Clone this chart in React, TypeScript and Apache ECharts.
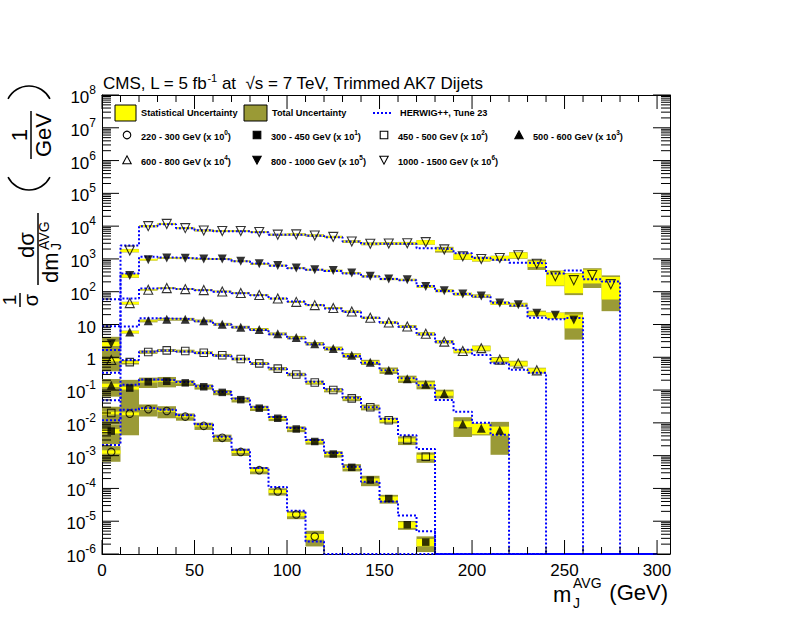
import { useEffect, useRef } from 'react';
import * as echarts from 'echarts';

// ---------- axes ----------
const XMAX = 307;
const YMIN = 1e-6;
const YMAX = 1e8;
const BIN = 10;
const xMajorTicks = [0, 50, 100, 150, 200, 250, 300];
const yDecades = [-6, -5, -4, -3, -2, -1, 0, 1, 2, 3, 4, 5, 6, 7, 8];

// ---------- data (1/sigma dsigma/dm, scaled), 10 GeV bins from 0 ----------
// 220 - 300 GeV (x 10^0)
const dataA = [1.3e-3, 1.9e-2, 2.6e-2, 2.3e-2, 1.55e-2, 8.1e-3, 3.5e-3, 1.3e-3, 3.6e-4, 8.1e-5, 1.6e-5, 3.4e-6];
const mcA = [2.1e-3, 2.5e-2, 2.8e-2, 2.5e-2, 1.7e-2, 9.0e-3, 3.8e-3, 1.5e-3, 4.2e-4, 1.1e-4, 2.1e-5, 2.4e-6];
const statA = [0.12, 0.1, 0.05, 0.05, 0.05, 0.05, 0.06, 0.07, 0.08, 0.1, 0.12, 0.2];
const totA = [0.5, 0.78, 0.4, 0.4, 0.25, 0.25, 0.25, 0.25, 0.25, 0.25, 0.28, 0.5];

// 300 - 450 GeV (x 10^1)
const dataB = [5.6e-3, 0.115, 0.178, 0.186, 0.166, 0.126, 8.5e-2, 5.1e-2, 2.8e-2, 1.38e-2, 6.5e-3, 2.7e-3, 1.12e-3, 4.4e-4, 1.8e-4, 4.9e-5, 7.8e-6, 2.3e-6];
const mcB = [1.2e-2, 0.145, 0.21, 0.2, 0.175, 0.13, 8.8e-2, 5.4e-2, 3.0e-2, 1.5e-2, 7.0e-3, 3.0e-3, 1.2e-3, 4.6e-4, 1.6e-4, 4.0e-5, 1.5e-5, 4.9e-6];
const statB = [0.15, 0.1, 0.04, 0.04, 0.04, 0.04, 0.04, 0.04, 0.05, 0.05, 0.06, 0.07, 0.08, 0.1, 0.12, 0.15, 0.2, 0.25];
const totB = [0.6, 0.78, 0.35, 0.35, 0.2, 0.18, 0.18, 0.18, 0.18, 0.18, 0.2, 0.2, 0.22, 0.25, 0.35, 0.3, 0.3, 0.5];

// 450 - 500 GeV (x 10^2)
const dataC = [2.0e-2, 0.71, 1.45, 1.62, 1.55, 1.38, 1.15, 0.89, 0.65, 0.45, 0.3, 0.17, 0.1, 5.6e-2, 3.0e-2, 1.2e-2, 3.0e-3, 9.3e-4];
const mcC = [4.9e-2, 0.83, 1.48, 1.6, 1.5, 1.35, 1.12, 0.88, 0.64, 0.45, 0.3, 0.18, 0.105, 5.8e-2, 3.0e-2, 1.3e-2, 4.2e-3, 1.6e-3];
const statC = [0.1, 0.06, 0.04, 0.04, 0.04, 0.04, 0.04, 0.04, 0.04, 0.05, 0.05, 0.06, 0.06, 0.07, 0.08, 0.1, 0.12, 0.15];
const totC = [0.55, 0.15, 0.12, 0.1, 0.1, 0.1, 0.1, 0.1, 0.1, 0.12, 0.12, 0.14, 0.15, 0.18, 0.2, 0.2, 0.3, 0.35];

// 500 - 600 GeV (x 10^3)
const dataD = [0.14, 5.9, 12.9, 14.5, 14.5, 12.9, 10.2, 8.3, 7.1, 5.2, 4.0, 2.6, 1.86, 1.15, 0.71, 0.4, 0.22, 0.15, 7.9e-2, 9.3e-3, 6.9e-3, 5.9e-3];
const mcD = [0.34, 8.7, 15.5, 15, 14.5, 12.5, 10, 8.2, 6.8, 5.0, 3.8, 2.5, 1.8, 1.1, 0.68, 0.4, 0.23, 0.14, 5.0e-2, 2.2e-2, 1.0e-2, 4.3e-3];
const statD = [0.12, 0.08, 0.04, 0.04, 0.04, 0.04, 0.04, 0.04, 0.04, 0.05, 0.05, 0.05, 0.06, 0.07, 0.08, 0.1, 0.12, 0.15, 0.15, 0.2, 0.35, 0.3];
const totD = [0.55, 0.1, 0.1, 0.1, 0.1, 0.1, 0.1, 0.1, 0.1, 0.1, 0.12, 0.12, 0.14, 0.16, 0.18, 0.22, 0.25, 0.3, 0.3, 0.6, 0.4, 0.82];

// 600 - 800 GeV (x 10^4)
const dataE = [0.83, 45, 115, 129, 120, 112, 102, 91, 79, 62, 49, 39, 32, 25, 16, 11.5, 8.7, 5.2, 3.0, 1.55, 1.9, 0.85, 0.65, 0.4];
const mcE = [1.66, 62, 126, 128, 120, 110, 100, 90, 78, 62, 50, 39, 31, 24, 16, 11.5, 8.5, 5.0, 3.0, 1.7, 1.17, 0.66, 0.42, 0.34];
const statE = [0.1, 0.08, 0.04, 0.04, 0.04, 0.04, 0.04, 0.04, 0.04, 0.04, 0.04, 0.05, 0.05, 0.05, 0.06, 0.06, 0.07, 0.08, 0.08, 0.1, 0.15, 0.12, 0.15, 0.15];
const totE = [0.55, 0.1, 0.06, 0.06, 0.06, 0.06, 0.06, 0.06, 0.06, 0.06, 0.06, 0.07, 0.07, 0.08, 0.08, 0.08, 0.1, 0.12, 0.12, 0.15, 0.2, 0.2, 0.2, 0.2];

// 800 - 1000 GeV (x 10^5)
const dataF = [2.6, 310, 950, 1070, 1050, 1000, 1000, 850, 710, 630, 525, 470, 440, 370, 295, 245, 230, 145, 107, 85, 74, 45, 40, 22, 19, 13.8];
const mcF = [8.9, 360, 1170, 1100, 1050, 1000, 980, 850, 720, 620, 520, 470, 430, 360, 290, 245, 225, 150, 105, 85, 72, 46, 38, 16, 14.5, 15.8];
const statF = [0.15, 0.12, 0.05, 0.04, 0.04, 0.04, 0.04, 0.04, 0.04, 0.04, 0.04, 0.04, 0.05, 0.05, 0.05, 0.06, 0.06, 0.07, 0.07, 0.08, 0.08, 0.1, 0.1, 0.12, 0.2, 0.45];
const totF = [0.62, 0.14, 0.06, 0.06, 0.06, 0.06, 0.06, 0.06, 0.06, 0.06, 0.06, 0.06, 0.07, 0.07, 0.07, 0.08, 0.08, 0.09, 0.1, 0.1, 0.12, 0.12, 0.15, 0.2, 0.22, 0.75];

// 1000 - 1500 GeV (x 10^6)
const dataG = [null, 1800, 1.0e4, 1.17e4, 8700, 7400, 7100, 7100, 6600, 5500, 5600, 5200, 4700, 3400, 2900, 2950, 3000, 3250, 1950, 1200, 1000, 1070, 1300, 710, 295, 225, 325, 170];
const mcG = [59, 2570, 1.0e4, 1.15e4, 8700, 7500, 7000, 7000, 6500, 5500, 5500, 5100, 4600, 3400, 2900, 2900, 2900, 2100, 2000, 1500, 1070, 950, 760, 740, 360, 440, 240, 205];
const statG = [0, 0.1, 0.06, 0.05, 0.05, 0.05, 0.05, 0.05, 0.05, 0.05, 0.06, 0.06, 0.06, 0.07, 0.08, 0.08, 0.08, 0.15, 0.12, 0.2, 0.15, 0.15, 0.2, 0.2, 0.48, 0.6, 0.45, 0.66];
const totG = [0, 0.12, 0.08, 0.07, 0.07, 0.07, 0.07, 0.07, 0.07, 0.07, 0.08, 0.08, 0.08, 0.09, 0.1, 0.1, 0.1, 0.16, 0.2, 0.22, 0.17, 0.17, 0.22, 0.35, 0.5, 0.65, 0.6, 0.85];

const seriesNames = ['220 - 300 GeV', '300 - 450 GeV', '450 - 500 GeV', '500 - 600 GeV', '600 - 800 GeV', '800 - 1000 GeV', '1000 - 1500 GeV'];
const scaleExponents = [0, 1, 2, 3, 4, 5, 6];

const YELLOW = '#ffff00';
const OLIVE = '#9a9a36';
const BLUE = '#0000ff';
const FONT = 'Liberation Sans, Arial, Helvetica, sans-serif';

type Group = { data: (number | null)[]; mc: number[]; stat: number[]; tot: number[]; symbol: string; filled: boolean; rotate: number };

const groups: Group[] = [
  { data: dataA, mc: mcA, stat: statA, tot: totA, symbol: 'circle', filled: false, rotate: 0 },
  { data: dataB, mc: mcB, stat: statB, tot: totB, symbol: 'rect', filled: true, rotate: 0 },
  { data: dataC, mc: mcC, stat: statC, tot: totC, symbol: 'rect', filled: false, rotate: 0 },
  { data: dataD, mc: mcD, stat: statD, tot: totD, symbol: 'triangle', filled: true, rotate: 0 },
  { data: dataE, mc: mcE, stat: statE, tot: totE, symbol: 'triangle', filled: false, rotate: 0 },
  { data: dataF, mc: mcF, stat: statF, tot: totF, symbol: 'triangle', filled: true, rotate: 180 },
  { data: dataG, mc: mcG, stat: statG, tot: totG, symbol: 'triangle', filled: false, rotate: 180 },
];

function boxItems(kind: 'stat' | 'tot') {
  const out: number[][] = [];
  groups.forEach((g) => {
    g.data.forEach((v, k) => {
      if (v == null) return;
      const e = kind === 'stat' ? g.stat[k] : g.tot[k];
      out.push([k * BIN, k * BIN + BIN, Math.max(v * (1 - e), YMIN * 1.001), v * (1 + e)]);
    });
  });
  return out;
}

function stepPoints(mc: number[]) {
  const pts: number[][] = [];
  mc.forEach((v, k) => {
    pts.push([k * BIN, v]);
    pts.push([k * BIN + BIN, v]);
  });
  pts.push([mc.length * BIN, YMIN]);
  pts.push([300, YMIN]);
  return pts;
}

const boxRender = (color: string) => (params: any, api: any) => {
  const p0 = api.coord([api.value(0), api.value(3)]);
  const p1 = api.coord([api.value(1), api.value(2)]);
  return {
    type: 'rect',
    shape: { x: p0[0], y: p0[1], width: p1[0] - p0[0], height: p1[1] - p0[1] },
    style: { fill: color },
  };
};

// tick positions for custom-drawn ticks
const xMinorTicks: number[] = [];
for (let x = 0; x <= 300; x += 10) if (x % 50 !== 0) xMinorTicks.push(x);
const yMinorTicks: number[] = [];
yDecades.slice(0, -1).forEach((e) => {
  for (let m = 2; m <= 9; m++) yMinorTicks.push(m * Math.pow(10, e));
});

function tickItems() {
  const items: number[][] = [];
  xMajorTicks.forEach((x) => items.push([0, x, 14]));
  xMinorTicks.forEach((x) => items.push([0, x, 7]));
  yDecades.forEach((e) => items.push([1, Math.pow(10, e), 17]));
  yMinorTicks.forEach((v) => items.push([1, v, 9]));
  return items;
}

const tickRender = (params: any, api: any) => {
  const kind = api.value(0);
  const v = api.value(1);
  const len = api.value(2);
  const st = { stroke: '#000', lineWidth: 1 };
  if (kind === 0) {
    const b = api.coord([v, YMIN]);
    const t = api.coord([v, YMAX]);
    return {
      type: 'group',
      children: [
        { type: 'line', shape: { x1: b[0], y1: b[1], x2: b[0], y2: b[1] - len }, style: st },
        { type: 'line', shape: { x1: t[0], y1: t[1], x2: t[0], y2: t[1] + len }, style: st },
      ],
    };
  }
  const l = api.coord([0, v]);
  const r = api.coord([XMAX, v]);
  return {
    type: 'group',
    children: [
      { type: 'line', shape: { x1: l[0], y1: l[1], x2: l[0] + len, y2: l[1] }, style: st },
      { type: 'line', shape: { x1: r[0], y1: r[1], x2: r[0] - len, y2: r[1] }, style: st },
    ],
  };
};

function yLabel(v: number) {
  const e = Math.round(Math.log10(v));
  if (e === 0) return '{b|1}';
  if (e === 1) return '{b|10}';
  return '{b|10}{s|' + e + '}';
}

// ---------- legend helpers ----------
function markerGraphic(symbol: string, filled: boolean, rotate: number, cx: number, cy: number) {
  const style = { fill: filled ? '#000' : 'none', stroke: '#000', lineWidth: 1.1 };
  if (symbol === 'circle') return { type: 'circle', shape: { cx, cy, r: 3.8 }, style };
  if (symbol === 'rect') return { type: 'rect', shape: { x: cx - 3.8, y: cy - 3.8, width: 7.6, height: 7.6 }, style };
  const h = 4.2;
  const pts = rotate ? [[cx - h, cy - h + 0.5], [cx + h, cy - h + 0.5], [cx, cy + h]] : [[cx - h, cy + h - 0.5], [cx + h, cy + h - 0.5], [cx, cy - h]];
  return { type: 'polygon', shape: { points: pts }, style };
}

const legendPos = [
  [127, 135], [257, 135], [384, 135], [519, 135],
  [127, 160], [257, 160], [384, 160],
];

export default function App() {
  const ref = useRef<HTMLDivElement>(null);
  useEffect(() => {
    if (!ref.current) return;
    const chart = echarts.init(ref.current, null, { renderer: 'svg' });

    const series: any[] = [];
    series.push({ type: 'custom', name: 'Total Uncertainty', renderItem: boxRender(OLIVE), data: boxItems('tot'), encode: { x: [0, 1], y: [2, 3] }, clip: true, z: 1 });
    series.push({ type: 'custom', name: 'Statistical Uncertainty', renderItem: boxRender(YELLOW), data: boxItems('stat'), encode: { x: [0, 1], y: [2, 3] }, clip: true, z: 2 });
    groups.forEach((g, i) => {
      series.push({
        type: 'line', name: 'HERWIG++, Tune 23 ' + seriesNames[i], data: stepPoints(g.mc), symbol: 'none', clip: true, z: 3,
        lineStyle: { color: BLUE, width: 2, type: [2, 2] },
      });
    });
    groups.forEach((g, i) => {
      series.push({
        type: 'scatter', name: seriesNames[i], z: 4,
        data: g.data.map((v, k) => (v == null ? null : [k * BIN + BIN / 2, v])).filter((d) => d != null),
        symbol: g.symbol, symbolSize: g.symbol === 'triangle' ? 9 : 7.5, symbolRotate: g.rotate,
        itemStyle: { color: g.filled ? '#000' : 'rgba(0,0,0,0)', borderColor: '#000', borderWidth: g.filled ? 0 : 1.1 },
      });
    });
    series.push({ type: 'custom', name: 'ticks', renderItem: tickRender, data: tickItems(), encode: { x: 1, y: 1 }, z: 10, clip: false, silent: true });

    const legendGraphics: any[] = [
      { type: 'rect', shape: { x: 115, y: 105, width: 21, height: 16 }, style: { fill: YELLOW, stroke: '#000', lineWidth: 1 } },
      { type: 'text', x: 141, y: 113, style: { text: 'Statistical Uncertainty', font: 'bold 9.2px ' + FONT, fill: '#000', verticalAlign: 'middle' } },
      { type: 'rect', shape: { x: 244, y: 105, width: 23, height: 16 }, style: { fill: OLIVE, stroke: '#000', lineWidth: 1 } },
      { type: 'text', x: 272, y: 113, style: { text: 'Total Uncertainty', font: 'bold 9.2px ' + FONT, fill: '#000', verticalAlign: 'middle' } },
      { type: 'line', shape: { x1: 373, y1: 113, x2: 393, y2: 113 }, style: { stroke: BLUE, lineWidth: 2, lineDash: [2, 2] } },
      { type: 'text', x: 400, y: 113, style: { text: 'HERWIG++, Tune 23', font: 'bold 9.2px ' + FONT, fill: '#000', verticalAlign: 'middle' } },
    ];
    groups.forEach((g, i) => {
      const [cx, cy] = legendPos[i];
      legendGraphics.push(markerGraphic(g.symbol, g.filled, g.rotate, cx, cy));
      legendGraphics.push({
        type: 'text', x: cx + 14, y: cy,
        style: {
          text: '{a|' + seriesNames[i] + ' (x 10}{s|' + scaleExponents[i] + '}{a|)}',
          verticalAlign: 'middle', fill: '#000',
          rich: { a: { font: 'bold 9.2px ' + FONT, lineHeight: 12, verticalAlign: 'bottom' }, s: { font: 'bold 6.5px ' + FONT, lineHeight: 12, verticalAlign: 'top' } },
        },
      });
    });

    const titleFont = 'Liberation Sans, Arial, sans-serif';
    const tx = (text: string, x: number, y: number, size: number, align: string, va: string) => ({
      type: 'text', x, y, style: { text, font: size + 'px ' + titleFont, fill: '#000', align, verticalAlign: va },
    });
    const bar = (x1: number, x2: number, y: number) => ({ type: 'line', shape: { x1, y1: y, x2, y2: y }, style: { stroke: '#000', lineWidth: 1.5 } });
    // local frame: x runs upward on screen (reading direction), y runs rightward on screen
    const yTitle = {
      type: 'group', x: 30, y: 312, rotation: Math.PI / 2,
      children: [
        tx('1', 12, -11, 19, 'center', 'bottom'),
        bar(5, 19, -10),
        tx('σ', 12, -9, 20, 'center', 'top'),
        tx('dσ', 67, 7, 22, 'center', 'bottom'),
        bar(27, 99, 8),
        tx('dm', 29, 9, 22, 'left', 'top'),
        tx('AVG', 62, 7, 14, 'left', 'top'),
        tx('J', 62, 19, 14, 'left', 'top'),
        { type: 'arc', shape: { cx: 145.5, cy: -1, r: 23.5, startAngle: Math.PI - 1.1, endAngle: Math.PI + 1.1 }, style: { stroke: '#000', lineWidth: 1.6, fill: 'none' } },
        tx('1', 177, 0, 22, 'center', 'bottom'),
        bar(153, 201, 1),
        tx('GeV', 177, 2, 22, 'center', 'top'),
        { type: 'arc', shape: { cx: 202.5, cy: -1, r: 23.5, startAngle: -1.1, endAngle: 1.1 }, style: { stroke: '#000', lineWidth: 1.6, fill: 'none' } },
      ],
    };

    const xTitle = [
      tx('m', 553, 594, 22, 'left', 'middle'),
      tx('AVG', 573, 583, 14, 'left', 'middle'),
      tx('J', 573, 603, 14, 'left', 'middle'),
      tx('(GeV)', 668, 592, 22, 'right', 'middle'),
    ];

    const title = {
      type: 'text', x: 103, y: 82,
      style: {
        text: '{t|CMS, L = 5 fb}{s|-1}{t| at  √s = 7 TeV, Trimmed AK7 Dijets}',
        verticalAlign: 'middle', fill: '#000',
        rich: { t: { font: '17px ' + titleFont, lineHeight: 20, verticalAlign: 'bottom' }, s: { font: '11px ' + titleFont, lineHeight: 20, verticalAlign: 'top' } },
      },
    };

    chart.setOption({
      animation: false,
      backgroundColor: '#fff',
      grid: { left: 102, right: 119, top: 95, bottom: 83, containLabel: false },
      xAxis: [
        {
          type: 'value', min: 0, max: XMAX, interval: 50, position: 'bottom',
          axisLine: { show: true, lineStyle: { color: '#000', width: 1 } },
          axisTick: { show: false }, splitLine: { show: false },
          axisLabel: { margin: 8, showMaxLabel: false, color: '#000', fontFamily: titleFont, fontSize: 17, formatter: (v: number) => (xMajorTicks.includes(v) ? String(v) : '') },
        },
        {
          type: 'value', min: 0, max: XMAX, interval: 50, position: 'top',
          axisLine: { show: true, onZero: false, lineStyle: { color: '#000', width: 1 } },
          axisTick: { show: false }, splitLine: { show: false }, axisLabel: { show: false },
        },
      ],
      yAxis: [
        {
          type: 'log', logBase: 10, min: YMIN, max: YMAX, interval: 1, position: 'left',
          axisLine: { show: true, lineStyle: { color: '#000', width: 1 } },
          axisTick: { show: false }, splitLine: { show: false },
          axisLabel: {
            margin: 6, color: '#000', formatter: yLabel,
            rich: {
              b: { fontFamily: titleFont, fontSize: 17, lineHeight: 22, verticalAlign: 'bottom', color: '#000' },
              s: { fontFamily: titleFont, fontSize: 12, lineHeight: 22, verticalAlign: 'top', color: '#000' },
            },
          },
        },
        {
          type: 'log', logBase: 10, min: YMIN, max: YMAX, interval: 1, position: 'right',
          axisLine: { show: true, onZero: false, lineStyle: { color: '#000', width: 1 } },
          axisTick: { show: false }, splitLine: { show: false }, axisLabel: { show: false },
        },
      ],
      series,
      graphic: [title, yTitle, ...xTitle, ...legendGraphics],
    });
    return () => chart.dispose();
  }, []);
  return <div ref={ref} style={{ position: 'fixed', left: 0, top: 0, width: 789, height: 637 }} />;
}
